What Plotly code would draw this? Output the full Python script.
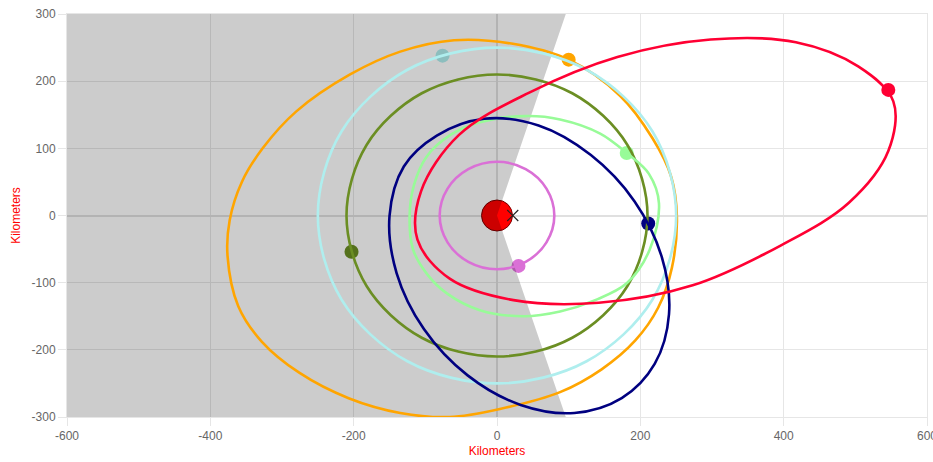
import plotly.graph_objects as go

# ---- data ----
x_ticks = [-600, -400, -200, 0, 200, 400, 600]
x_tick_labels = ["-600", "-400", "-200", "0", "200", "400", "600"]
y_ticks = [-300, -200, -100, 0, 100, 200, 300]
y_tick_labels = ["-300", "-200", "-100", "0", "100", "200", "300"]

shade_x = [-600, 96, 0, 96, -600]
shade_y = [300, 300, 0, -300, -300]

planet_x = [0]
planet_y = [0]
cross_x = [22]
cross_y = [0]

orchid_x = [80, 69, 40, 0, -40, -69, -80, -69, -40, 0, 40, 69, 80]
orchid_y = [0, 40, 69, 80, 69, 40, 0, -40, -69, -80, -69, -40, 0]

olive_x = [210, 182, 105, 0, -105, -182, -210, -182, -105, 0, 105, 182, 210]
olive_y = [0, 105, 182, 210, 182, 105, 0, -105, -182, -210, -182, -105, 0]

cyan_x = [250, 217, 125, 0, -125, -217, -250, -217, -125, 0, 125, 217, 250]
cyan_y = [0, 125, 217, 250, 217, 125, 0, -125, -217, -250, -217, -125, 0]

green_x = [226, 212, 181, 144, 88, 40, -24, -65, -98, -116, -122, -117, -97, -70, -24, 37, 88, 137, 181, 213, 226]
green_y = [18, 62, 93, 122, 143, 148, 139, 120, 88, 45, -2, -51, -88, -116, -141, -150, -143, -126, -101, -51, 18]

navy_x = [174, 220, 240, 230, 192, 131, 58, -18, -84, -130, -150, -140, -102, -41, 33, 108, 174]
navy_y = [-272, -221, -147, -62, 21, 90, 134, 144, 119, 73, -1, -86, -169, -238, -282, -294, -272]

red_x = [553, 504, 417, 298, 168, 45, -53, -106, -111, -66, 23, 142, 273, 397, 491, 546, 553]
red_y = [170, 222, 258, 262, 236, 183, 120, 36, -36, -94, -126, -130, -104, -44, 19, 96, 170]

orange_x = [251, 243, 217, 172, 100, 20, -60, -135, -205, -280, -327, -356, -373, -376, -361, -328, -276, -207, -135, -66, 4, 88, 146, 193, 225, 244, 251]
orange_y = [-2, 58, 115, 178, 232, 256, 261, 244, 210, 155, 100, 50, -7, -60, -135, -188, -234, -272, -294, -300, -288, -263, -229, -186, -137, -78, -2]

sat_x = [30, 181, 211, 546, 100, -76, -203]
sat_y = [-75, 93, -12, 187, 232, 238, -54]
sat_colors = ["#DA70D6", "#98FB98", "#000080", "#FF0033", "#FFA500", "#AFEEEE", "#6B8E23"]

orbits = [
    (orange_x, orange_y, "#FFA500"),
    (cyan_x, cyan_y, "#AFEEEE"),
    (olive_x, olive_y, "#6B8E23"),
    (green_x, green_y, "#98FB98"),
    (navy_x, navy_y, "#000080"),
    (red_x, red_y, "#FF0033"),
    (orchid_x, orchid_y, "#DA70D6"),
]

FONT = "Liberation Sans, Arial, sans-serif"

fig = go.Figure()

# planet
fig.add_trace(go.Scatter(x=planet_x, y=planet_y, mode="markers",
                         marker=dict(size=31, color="#FF0000", line=dict(color="#7a0000", width=1)),
                         hoverinfo="skip", showlegend=False))
# satellites (drawn under the shade)
fig.add_trace(go.Scatter(x=sat_x, y=sat_y, mode="markers",
                         marker=dict(size=14, color=sat_colors, line=dict(width=0)),
                         hoverinfo="skip", showlegend=False))
# shade
fig.add_trace(go.Scatter(x=shade_x, y=shade_y, mode="lines", fill="toself",
                         fillcolor="rgba(0,0,0,0.2)", line=dict(width=0),
                         hoverinfo="skip", showlegend=False))
# orbits
for ox, oy, col in orbits:
    fig.add_trace(go.Scatter(x=ox, y=oy, mode="lines",
                             line=dict(color=col, width=2.6, shape="spline", smoothing=1.0),
                             hoverinfo="skip", showlegend=False))
# cross
fig.add_trace(go.Scatter(x=cross_x, y=cross_y, mode="markers",
                         marker=dict(symbol="x-thin", size=11, line=dict(color="#222222", width=1.2)),
                         hoverinfo="skip", showlegend=False))

grid = "#e6e6e6"
axis_common = dict(showgrid=True, gridcolor=grid, gridwidth=1,
                   zeroline=True, zerolinecolor="#e0e0e0", zerolinewidth=1.5,
                   showline=True, linecolor=grid, linewidth=1, mirror=True,
                   ticks="outside", ticklen=8, tickcolor=grid,
                   automargin=False, ticklabeloverflow="allow",
                   tickfont=dict(family=FONT, size=12, color="#666666"))

fig.update_layout(
    width=933, height=462,
    margin=dict(l=67, r=6, t=14, b=45),
    paper_bgcolor="white", plot_bgcolor="white",
    showlegend=False,
    xaxis=dict(range=[-600, 600], tickmode="array", tickvals=x_ticks, ticktext=x_tick_labels,
               title=dict(text="Kilometers", standoff=4,
                          font=dict(family=FONT, size=12, color="#FF0000")),
               **axis_common),
    yaxis=dict(range=[-300, 300], tickmode="array", tickvals=y_ticks, ticktext=y_tick_labels,
               title=dict(text="Kilometers", standoff=8,
                          font=dict(family=FONT, size=12, color="#FF0000")),
               **axis_common),
)

fig.write_html("out.html",
               config={"displayModeBar": False},
               post_script="document.body.style.margin='0';document.body.style.overflow='hidden';")
